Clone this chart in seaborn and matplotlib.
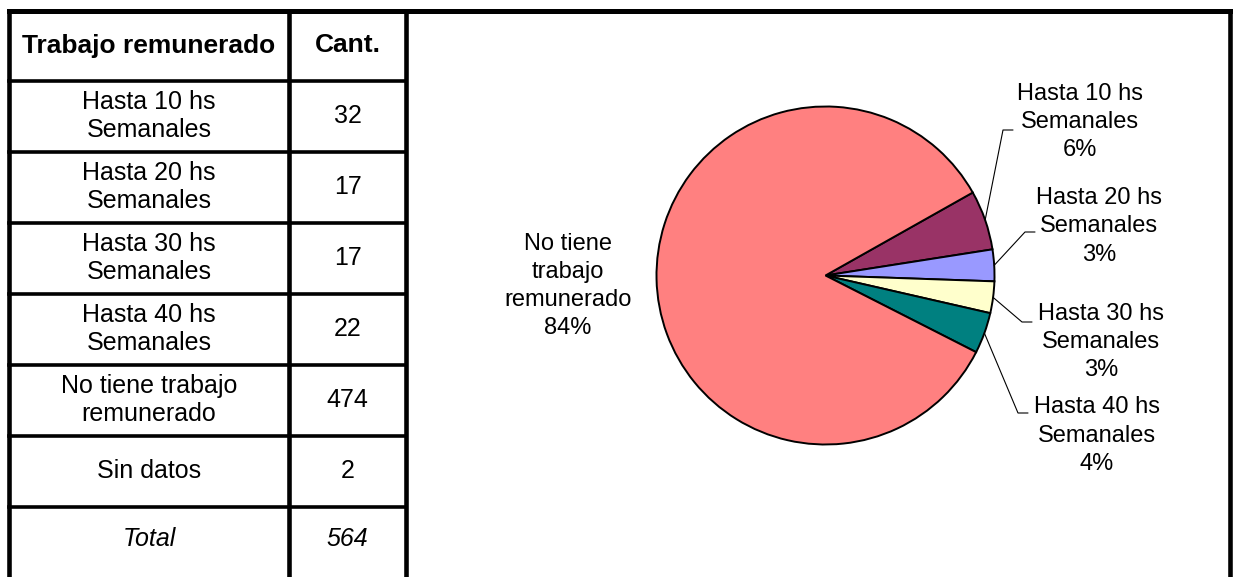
#!/usr/bin/env python3
# Trabajo remunerado: table of counts on the left, pie chart with leader labels on the right.

import matplotlib
matplotlib.use("Agg")
import matplotlib.pyplot as plt
import numpy as np
import seaborn as sns

# --- data -------------------------------------------------------------------
HEADERS     = ["Trabajo remunerado", "Cant."]
ROW_LABELS  = ["Hasta 10 hs\nSemanales", "Hasta 20 hs\nSemanales", "Hasta 30 hs\nSemanales",
               "Hasta 40 hs\nSemanales", "No tiene trabajo\nremunerado", "Sin datos"]
ROW_COUNTS  = [32, 17, 17, 22, 474, 2]
TOTAL_LABEL = "Total"
TOTAL_COUNT = 564

PIE_LABELS  = ["Hasta 10 hs\nSemanales", "Hasta 20 hs\nSemanales", "Hasta 30 hs\nSemanales",
               "Hasta 40 hs\nSemanales", "No tiene\ntrabajo\nremunerado"]
PIE_VALUES  = [32, 17, 17, 22, 474]
PIE_COLORS  = ["#993366", "#9999FF", "#FFFFCC", "#008080", "#FF8080"]

# --- layout (pixels, y downwards) ---------------------------------------------
W, H        = 1238, 577
COL_X       = [9, 289, 406]          # table vertical rules
BOX_RIGHT   = 1230
TOP         = 10.5
HEADER_H    = 70
ROW_H       = 71
PIE_CENTER  = (825.5, 275.5)
PIE_R       = 169
START_ANGLE = 29.4                   # first slice starts here, going clockwise
LABEL_POS   = [(1080, 122), (1099, 226.5), (1101, 342), (1097, 435.5), (568, 286)]
ELBOWS      = [((1003, 130), (1013, 130)), ((1025, 232), (1035, 232)),
               ((1022, 322), (1032, 322)), ((1018, 413), (1028, 413)), None]
FS_HEADER   = 19
FS_TABLE    = 18
FS_PIE      = 17


def draw_table(ax):
    rule = dict(color="black", solid_capstyle="projecting")
    y_rows = [TOP + HEADER_H + i * ROW_H for i in range(len(ROW_LABELS) + 1)]
    ax.plot([COL_X[0], BOX_RIGHT], [TOP, TOP], lw=3.6, **rule)
    for y in y_rows:
        ax.plot([COL_X[0], COL_X[-1]], [y, y], lw=2.6, **rule)
    for x in COL_X + [BOX_RIGHT]:
        ax.plot([x, x], [TOP, H + 10], lw=3.3, **rule)

    xc = [(COL_X[0] + COL_X[1]) / 2, (COL_X[1] + COL_X[2]) / 2]
    txt = dict(ha="center", va="center", color="black", linespacing=1.18)
    yh = TOP + HEADER_H / 2
    ax.text(xc[0], yh, HEADERS[0], fontweight="bold", fontsize=FS_HEADER, **txt)
    ax.text(xc[1], yh, HEADERS[1], fontweight="bold", fontsize=FS_HEADER, **txt)
    for i, (lab, n) in enumerate(zip(ROW_LABELS, ROW_COUNTS)):
        y = y_rows[i] + ROW_H / 2
        ax.text(xc[0], y, lab, fontsize=FS_TABLE, **txt)
        ax.text(xc[1], y, str(n), fontsize=FS_TABLE, **txt)
    yt = y_rows[-1] + 32
    ax.text(xc[0], yt, TOTAL_LABEL, style="italic", fontsize=FS_TABLE, **txt)
    ax.text(xc[1], yt, str(TOTAL_COUNT), style="italic", fontsize=FS_TABLE, **txt)


def draw_pie(ax):
    # y axis is inverted, so counterclock in data space is clockwise on screen
    wedges, _ = ax.pie(PIE_VALUES, colors=PIE_COLORS, startangle=-START_ANGLE,
                       counterclock=True, center=PIE_CENTER, radius=PIE_R,
                       wedgeprops=dict(edgecolor="black", linewidth=1.4))
    total = sum(PIE_VALUES)
    for w, lab, v, pos, elbow in zip(wedges, PIE_LABELS, PIE_VALUES, LABEL_POS, ELBOWS):
        pct = int(round(100 * v / total))
        ax.text(pos[0], pos[1], f"{lab}\n{pct}%", ha="center", va="center",
                color="black", fontsize=FS_PIE, linespacing=1.36)
        if elbow is None:
            continue
        mid = np.deg2rad((w.theta1 + w.theta2) / 2)
        x0 = PIE_CENTER[0] + PIE_R * np.cos(mid)
        y0 = PIE_CENTER[1] + PIE_R * np.sin(mid)
        (x1, y1), (x2, y2) = elbow
        ax.plot([x0, x1, x2], [y0, y1, y2], color="black", lw=0.8)


def main():
    sns.set_theme(style="white")
    plt.rcParams["font.family"] = ["Liberation Sans", "DejaVu Sans"]

    fig = plt.figure(figsize=(W / 100, H / 100), dpi=100)
    fig.patch.set_facecolor("white")
    ax = fig.add_axes([0, 0, 1, 1])

    draw_pie(ax)
    draw_table(ax)

    ax.set_xlim(0, W)
    ax.set_ylim(H, 0)
    ax.set_aspect("auto")
    ax.axis("off")

    fig.savefig("out.png", dpi=100, facecolor="white")


if __name__ == "__main__":
    main()
